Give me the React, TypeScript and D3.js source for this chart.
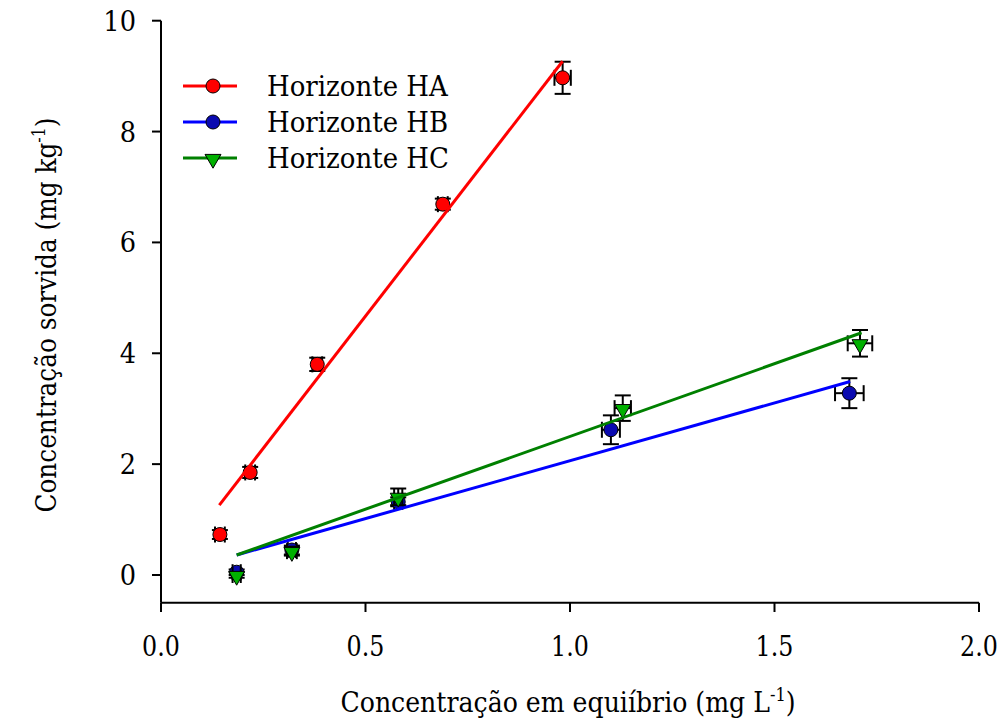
import React from "react";
import * as d3 from "d3";

const seriesNames = ["Horizonte HA", "Horizonte HB", "Horizonte HC"];
const lineColors = ["#ff0000", "#0000ff", "#008000"];
const markerFills = ["#ff0000", "#0a0ab0", "#00b000"];
const markerShapes = ["circle", "circle", "triangle"];

const haX = [0.144, 0.218, 0.382, 0.689, 0.982];
const haY = [0.73, 1.85, 3.8, 6.69, 8.97];
const haXErr = [0.012, 0.012, 0.012, 0.012, 0.02];
const haYErr = [0.08, 0.1, 0.12, 0.1, 0.29];

const hbX = [0.185, 0.32, 0.58, 1.1, 1.683];
const hbY = [0.05, 0.45, 1.32, 2.62, 3.28];
const hbXErr = [0.01, 0.01, 0.01, 0.022, 0.035];
const hbYErr = [0.05, 0.08, 0.08, 0.26, 0.27];

const hcX = [0.185, 0.32, 0.58, 1.129, 1.709];
const hcY = [0.0, 0.43, 1.41, 3.01, 4.18];
const hcXErr = [0.01, 0.012, 0.01, 0.02, 0.03];
const hcYErr = [0.05, 0.08, 0.15, 0.23, 0.24];

// fitted lines (slope, intercept, x-range)
const fitSlope = [9.54, 2.087, 2.624];
const fitIntercept = [-0.1, -0.026, -0.125];
const fitXStart = [0.1426, 0.185, 0.185];
const fitXEnd = [0.982, 1.685, 1.713];

const xTicks = [0, 0.5, 1.0, 1.5, 2.0];
const yTicks = [0, 2, 4, 6, 8, 10];

const FONT = "'DejaVu Serif', serif";

function Label(props: {
  x: number;
  y: number;
  sx: number;
  size: number;
  anchor?: string;
  rotate?: number;
  children: React.ReactNode;
}) {
  const { x, y, sx, size, anchor = "start", rotate = 0, children } = props;
  return (
    <g transform={`translate(${x},${y}) rotate(${rotate}) scale(${sx},1)`}>
      <text x={0} y={0} fontSize={size} textAnchor={anchor} fill="#000" style={{ fontFamily: FONT }}>
        {children}
      </text>
    </g>
  );
}

export default function App() {
  const x = d3.scaleLinear().domain([0, 2]).range([161, 979]);
  const y = d3.scaleLinear().domain([-0.5, 10]).range([602.7, 20.7]);

  const series = [
    { xs: haX, ys: haY, xe: haXErr, ye: haYErr },
    { xs: hbX, ys: hbY, xe: hbXErr, ye: hbYErr },
    { xs: hcX, ys: hcY, xe: hcXErr, ye: hcYErr },
  ];

  const cap = 8;
  const r = 7;
  const tri = d3.symbol().type(d3.symbolTriangle).size(110);

  const marker = (i: number, cx: number, cy: number, key: string) =>
    markerShapes[i] === "circle" ? (
      <circle key={key} cx={cx} cy={cy} r={r} fill={markerFills[i]} stroke="#000" strokeWidth={1} />
    ) : (
      <path
        key={key}
        d={tri() as string}
        transform={`translate(${cx},${cy + 1}) rotate(180)`}
        fill={markerFills[i]}
        stroke="#000"
        strokeWidth={1}
      />
    );

  return (
    <svg
      width={997}
      height={726}
      style={{ position: "absolute", left: 0, top: 0, background: "#fff", fontFamily: FONT }}
    >
      <rect width={997} height={726} fill="#fff" />
      {/* axes */}
      <g stroke="#000" strokeWidth={2} fill="none">
        <line x1={161} x2={161} y1={y(10)} y2={y(-0.5)} />
        <line x1={x(0)} x2={x(2)} y1={602.7} y2={602.7} />
        {yTicks.map((t) => (
          <line key={"yt" + t} x1={152} x2={161} y1={y(t)} y2={y(t)} />
        ))}
        {xTicks.map((t) => (
          <line key={"xt" + t} x1={x(t)} x2={x(t)} y1={602.7} y2={612} />
        ))}
      </g>
      {yTicks.map((t) => (
        <Label key={"yl" + t} x={136} y={y(t) + 10} sx={0.95} size={27} anchor="end">
          {t}
        </Label>
      ))}
      {xTicks.map((t) => (
        <Label key={"xl" + t} x={x(t)} y={656} sx={0.88} size={27} anchor="middle">
          {d3.format(".1f")(t)}
        </Label>
      ))}
      {/* axis titles */}
      <Label x={568} y={712} sx={0.9} size={28} anchor="middle">
        Concentração em equiíbrio (mg L
        <tspan fontSize={18} dy={-11}>-1</tspan>
        <tspan dy={11}>)</tspan>
      </Label>
      <Label x={56} y={315} sx={0.885} size={28} anchor="middle" rotate={-90}>
        Concentração sorvida (mg kg
        <tspan fontSize={18} dy={-11}>-1</tspan>
        <tspan dy={11}>)</tspan>
      </Label>

      {/* error bars and markers */}
      {series.map((s, i) => (
        <g key={"s" + i}>
          {s.xs.map((xv, j) => {
            const cx = x(xv);
            const cy = y(s.ys[j]);
            const y1 = y(s.ys[j] + s.ye[j]);
            const y2 = y(s.ys[j] - s.ye[j]);
            const x1 = x(xv - s.xe[j]);
            const x2 = x(xv + s.xe[j]);
            return (
              <g key={"p" + j} stroke="#000" strokeWidth={2}>
                <line x1={cx} x2={cx} y1={y1} y2={y2} />
                <line x1={cx - cap} x2={cx + cap} y1={y1} y2={y1} />
                <line x1={cx - cap} x2={cx + cap} y1={y2} y2={y2} />
                <line x1={x1} x2={x2} y1={cy} y2={cy} />
                <line x1={x1} x2={x1} y1={cy - cap} y2={cy + cap} />
                <line x1={x2} x2={x2} y1={cy - cap} y2={cy + cap} />
              </g>
            );
          })}
          {s.xs.map((xv, j) => marker(i, x(xv), y(s.ys[j]), "m" + j))}
        </g>
      ))}

      {/* fitted lines */}
      {fitSlope.map((m, i) => {
        const xs = [fitXStart[i], fitXEnd[i]];
        const pts = xs.map((xv) => [x(xv), y(m * xv + fitIntercept[i])] as [number, number]);
        const gen = d3.line();
        return (
          <path key={"f" + i} d={gen(pts) as string} stroke={lineColors[i]} strokeWidth={3} fill="none" />
        );
      })}

      {/* legend */}
      {seriesNames.map((n, i) => {
        const ly = 86 + i * 36;
        return (
          <g key={"lg" + i}>
            <line x1={183} x2={237} y1={ly} y2={ly} stroke={lineColors[i]} strokeWidth={3} />
            {marker(i, 213, ly, "lm" + i)}
            <Label x={267} y={ly + 10} sx={0.93} size={28}>
              {n}
            </Label>
          </g>
        );
      })}
    </svg>
  );
}
